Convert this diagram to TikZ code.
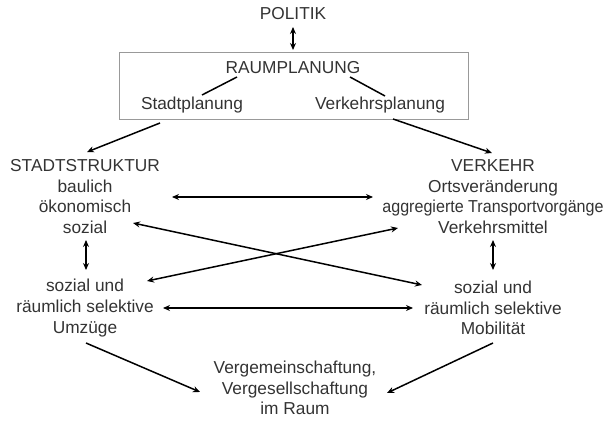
\documentclass[tikz,border=0pt]{standalone}
\usepackage{fontspec}
\setmainfont{Liberation Sans}
\usepackage{graphicx}
\usetikzlibrary{calc, arrows.meta}

\begin{document}
\begin{tikzpicture}[x=1pt, y=-1pt, >={Stealth[length=7pt, width=6pt]},
    every node/.style={align=center, text=black!80, inner sep=2pt,
      font=\fontsize{17.3}{20.6}\selectfont},
    link/.style={line width=1.5pt, black}]
    \useasboundingbox (0,0) rectangle (605,422);
    % Politik and planning box
    \node (politik) at (293,14) {POLITIK};
    \node[draw=black!40, line width=0.8pt, minimum width=349, minimum height=67, inner sep=0pt] (planbox) at (293.5,85.5) {};
    \node (raum) at (293,68) {RAUMPLANUNG};
    \node (stadtpl) at (192,105) {Stadtplanung};
    \node (verkpl) at (380,105) {Verkehrsplanung};
    % Structure and traffic
    \node (stadt) at (85,196.5) {STADTSTRUKTUR\\baulich\\ökonomisch\\sozial};
    \node (verk) at (493,196.5) {VERKEHR\\Ortsveränderung\\\scalebox{0.93}[1]{aggregierte Transportvorgänge}\\Verkehrsmittel};
    % Selective moves and mobility
    \node (umz) at (85,308) {sozial und\\räumlich selektive\\Umzüge};
    \node (mob) at (493,308) {sozial und\\räumlich selektive\\Mobilität};
    \node (verg) at (295,388) {Vergemeinschaftung,\\Vergesellschaftung\\im Raum};
    % Connectors
    \draw[link, <->] ($(politik)+(0,13)$) -- ($(planbox)+(-0.5,-35.5)$);
    \draw[link] ($(raum)+(-56,9)$) -- ($(stadtpl)+(10,-10)$);
    \draw[link] ($(raum)+(57,9)$) -- ($(verkpl)+(5,-9)$);
    \draw[link, ->] ($(stadtpl)+(-32,18)$) -- ($(stadt)+(2,-44.5)$);
    \draw[link, ->] ($(verkpl)+(13,14)$) -- ($(verk)+(-1,-43.5)$);
    \draw[link, <->] ($(stadt)+(87,0.5)$) -- ($(verk)+(-120,0.5)$);
    \draw[link, <->] ($(umz)+(62,-27)$) -- ($(verk)+(-95,31.5)$);
    \draw[link, <->] ($(stadt)+(48,26.5)$) -- ($(mob)+(-71,-23)$);
    \draw[link, <->] ($(stadt)+(1,43.5)$) -- ($(umz)+(1,-38)$);
    \draw[link, <->] ($(verk)+(0,43.5)$) -- ($(mob)+(0,-38)$);
    \draw[link, <->] ($(umz)+(78,0)$) -- ($(mob)+(-80,0)$);
    \draw[link, ->] ($(umz)+(1,35)$) -- ($(verg)+(-95,4)$);
    \draw[link, ->] ($(mob)+(0,35)$) -- ($(verg)+(92,5)$);
\end{tikzpicture}
\end{document}
